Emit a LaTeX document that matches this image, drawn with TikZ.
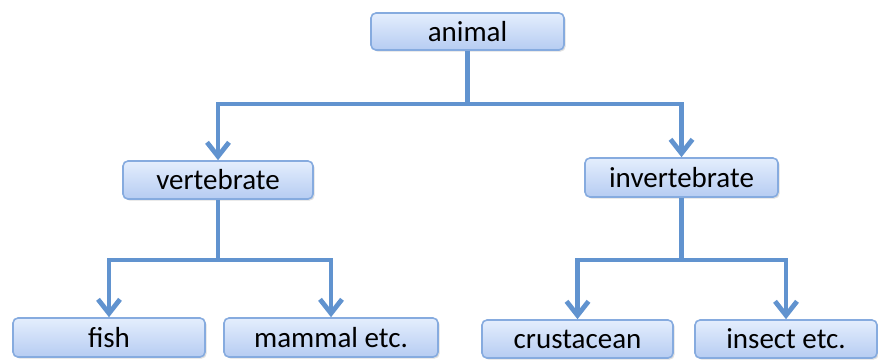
\documentclass[tikz,border=0pt]{standalone}
\usepackage{fontspec}
\setmainfont{Carlito}
\usetikzlibrary{arrows.meta,shadows}

\definecolor{boxtop}{HTML}{E4EEFD}
\definecolor{boxbot}{HTML}{B6CCF2}
\definecolor{boxline}{HTML}{86ABDF}
\definecolor{linkblue}{HTML}{6193CF}

\tikzset{
  taxon/.style={rectangle, rounded corners=2.5pt, draw=boxline, line width=0.8pt,
    top color=boxtop, bottom color=boxbot, text=black,
    drop shadow={shadow xshift=0.8pt, shadow yshift=-0.8pt, opacity=0.25},
    font=\fontsize{14.5}{17}\selectfont, inner sep=0pt},
  link/.style={draw=linkblue, line width=2.4pt},
  down/.style={link, -{Straight Barb[length=7pt,width=11pt,line width=2.4pt]}}
}

\begin{document}
\begin{tikzpicture}[x=0.5pt,y=-0.5pt]
\useasboundingbox (0,0) rectangle (878,360);

\node (animal) at (467.5,31.5) [taxon, minimum width=96.5pt, minimum height=18.5pt] {animal};

\node (vert) at (218,180) [taxon, minimum width=95pt, minimum height=19pt] {vertebrate};
\node (invert) at (681.5,177.5) [taxon, minimum width=96.5pt, minimum height=19.5pt] {invertebrate};

\node (fish) at (109,337.5) [taxon, minimum width=96pt, minimum height=19.5pt] {fish};
\node (mammal) at (331,337.5) [taxon, minimum width=107pt, minimum height=19.5pt] {mammal etc.};

\node (crust) at (577.5,339) [taxon, minimum width=95.5pt, minimum height=19pt] {crustacean};
\node (insect) at (786,339) [taxon, minimum width=91pt, minimum height=19pt] {insect etc.};

% branch points
\coordinate (a1) at (animal.south |- 0,104);
\coordinate (v1) at (vert.south |- 0,260);
\coordinate (i1) at (invert.south |- 0,260);

\draw[link] (animal.south) -- (a1);
\draw[down] (a1) -| (vert.north);
\draw[down] (a1) -| (invert.north);

\draw[link] (vert.south) -- (v1);
\draw[down] (v1) -| (fish.north);
\draw[down] (v1) -| (mammal.north);

\draw[link] (invert.south) -- (i1);
\draw[down] (i1) -| (crust.north);
\draw[down] (i1) -| (insect.north);
\end{tikzpicture}
\end{document}
